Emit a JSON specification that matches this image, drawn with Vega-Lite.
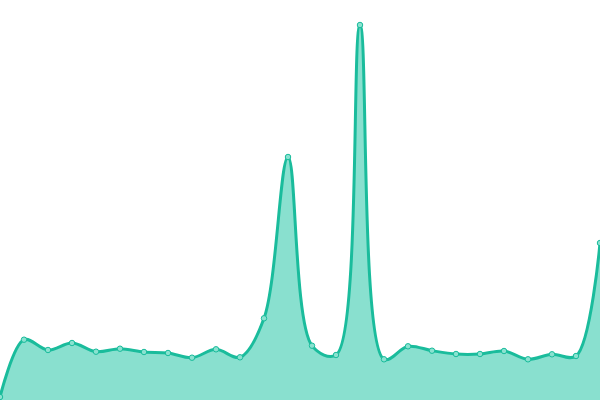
{
  "$schema": "https://vega.github.io/schema/vega-lite/v6.json",
  "width": 600,
  "height": 400,
  "autosize": "none",
  "padding": 0,
  "background": "#ffffff",
  "config": {"view": {"stroke": null}},
  "data": {
    "values": [
      {"i": 0, "v": 3}, {"i": 1, "v": 60.3}, {"i": 2, "v": 50}, {"i": 3, "v": 57},
      {"i": 4, "v": 48.3}, {"i": 5, "v": 51.3}, {"i": 6, "v": 48}, {"i": 7, "v": 47},
      {"i": 8, "v": 42.3}, {"i": 9, "v": 50.7}, {"i": 10, "v": 42.7}, {"i": 11, "v": 81.7},
      {"i": 12, "v": 243}, {"i": 13, "v": 54.3}, {"i": 14, "v": 45}, {"i": 15, "v": 375},
      {"i": 16, "v": 40.7}, {"i": 17, "v": 53.7}, {"i": 18, "v": 49.3}, {"i": 19, "v": 46},
      {"i": 20, "v": 46}, {"i": 21, "v": 49}, {"i": 22, "v": 40.7}, {"i": 23, "v": 45.7},
      {"i": 24, "v": 44}, {"i": 25, "v": 157}
    ]
  },
  "encoding": {
    "x": {"field": "i", "type": "quantitative", "axis": null, "scale": {"domain": [0, 25], "nice": false}},
    "y": {"field": "v", "type": "quantitative", "axis": null, "scale": {"domain": [0, 400], "nice": false}}
  },
  "layer": [
    {"mark": {"type": "area", "interpolate": "catmull-rom", "color": "#89e0cf", "clip": true}},
    {"mark": {"type": "line", "interpolate": "catmull-rom", "color": "#1abc9c", "strokeWidth": 3, "clip": true}},
    {"mark": {"type": "point", "filled": true, "size": 30, "fill": "#8ae2d0", "stroke": "#1abc9c", "strokeWidth": 1, "opacity": 1}}
  ]
}
